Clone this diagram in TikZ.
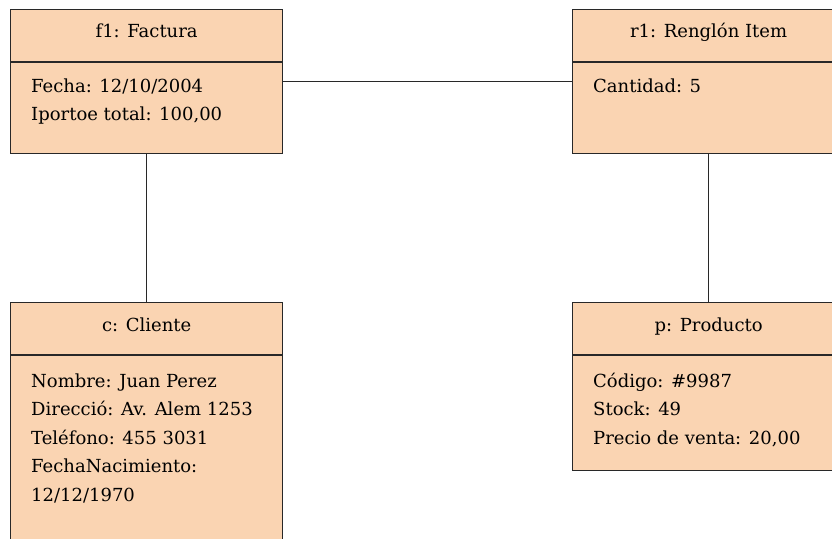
\documentclass[tikz,border=0pt]{standalone}
\usepackage{fontspec}
\setmainfont{DejaVu Serif}
\definecolor{objfill}{RGB}{250,212,178}
\definecolor{objline}{RGB}{40,40,40}
\begin{document}
\begin{tikzpicture}[x=1pt,y=-1pt,
  objbox/.style={draw=objline, fill=objfill, line width=1.3pt, rectangle,
    minimum width=272pt, anchor=north west, inner sep=0pt},
  title/.style={anchor=base, inner sep=0pt, font=\fontsize{18}{22}\selectfont},
  attrs/.style={anchor=base west, inner sep=0pt, align=left,
    font=\fontsize{18}{28.6}\selectfont},
  link/.style={draw=objline, line width=1.3pt}]
\useasboundingbox (0,0) rectangle (832,538);
\begin{scope}
\clip (0,0) rectangle (832,538);
% object boxes
\node[objbox, minimum height=144pt] (f1) at (10,9) {};
\node[objbox, minimum height=144pt] (r1) at (572,9) {};
\node[objbox, minimum height=260pt] (c) at (10,302) {};
\node[objbox, minimum height=168pt] (p) at (572,302) {};
% links between objects
\draw[link] (f1) -- (r1);
\draw[link] (f1) -- (c);
\draw[link] (r1) -- (p);
% title separators
\draw[link] (f1.west |- 0,62) -- (f1.east |- 0,62);
\draw[link] (r1.west |- 0,62) -- (r1.east |- 0,62);
\draw[link] (c.west |- 0,355) -- (c.east |- 0,355);
\draw[link] (p.west |- 0,355) -- (p.east |- 0,355);
% titles
\node[title] (f1t) at (f1.center |- 0,37) {f1: Factura};
\node[title] (r1t) at (r1.center |- 0,37) {r1: Renglón Item};
\node[title] (ct) at (c.center |- 0,331) {c: Cliente};
\node[title] (pt) at (p.center |- 0,331) {p: Producto};
% attributes (placed by the baseline of their last line)
\node[attrs] (f1a) at (31,120.6) {Fecha: 12/10/2004\\Iportoe total: 100,00};
\node[attrs] (r1a) at (593,92) {Cantidad: 5};
\node[attrs] (ca) at (31,501.4) {Nombre: Juan Perez\\Direcció: Av. Alem 1253\\Teléfono: 455 3031\\FechaNacimiento:\\12/12/1970};
\node[attrs] (pa) at (593,444.2) {Código: \#9987\\Stock: 49\\Precio de venta: 20,00};
\end{scope}
\end{tikzpicture}
\end{document}
